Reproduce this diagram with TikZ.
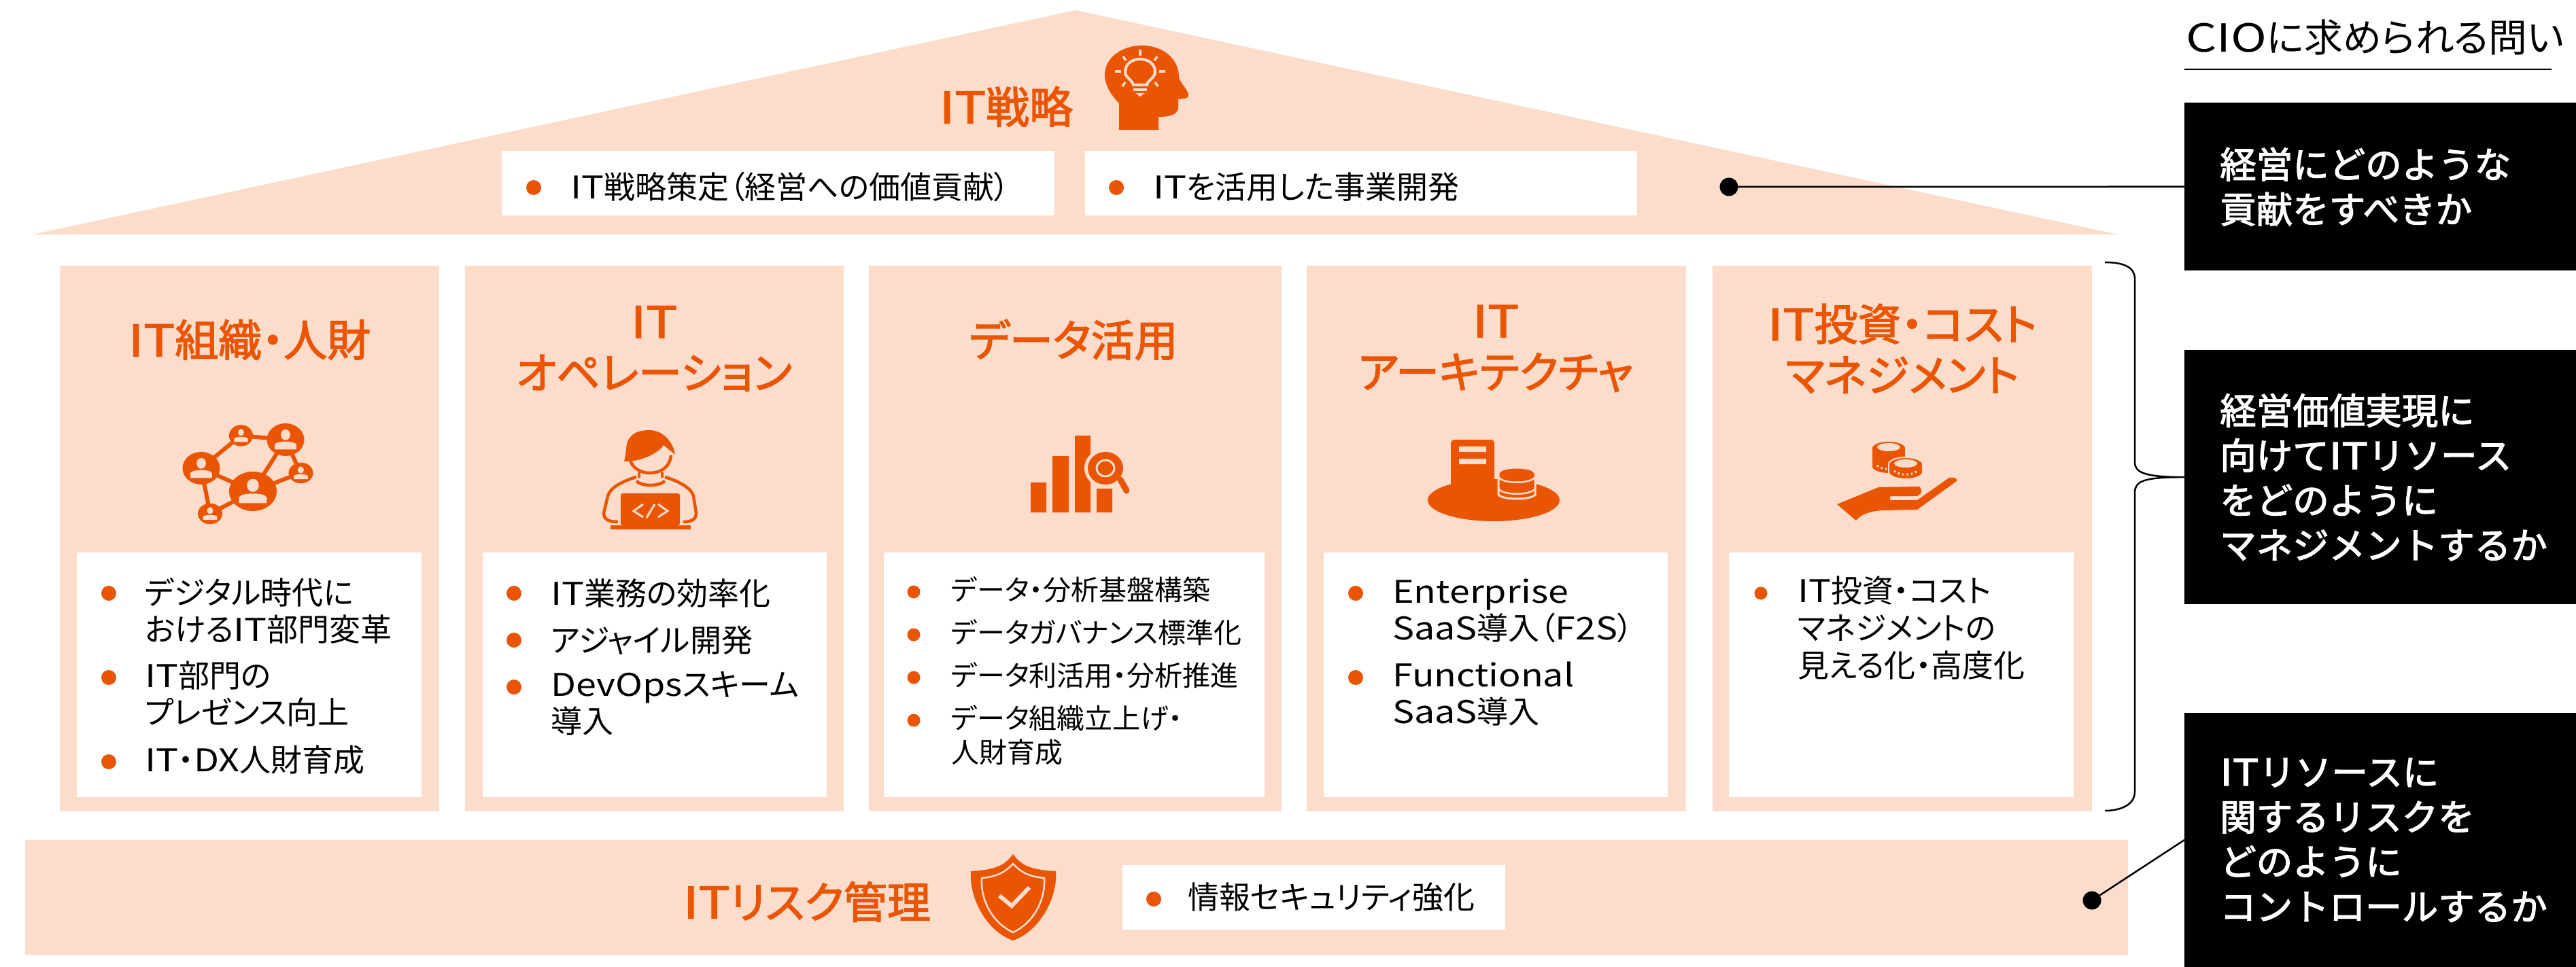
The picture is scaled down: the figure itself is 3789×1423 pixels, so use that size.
\documentclass[tikz,border=0pt]{standalone}
\usepackage{fontspec}
\setmainfont[RawFeature=+palt]{Noto Sans CJK JP}
\newfontfamily\jpmid[RawFeature=+palt,FakeBold=2.2]{Noto Sans CJK JP}
\newfontfamily\jpask[FakeBold=2.4]{Noto Sans CJK JP}
\newcommand\wideword[1]{{\addfontfeature{FakeStretch=1.17}#1}}
\newcommand\IT{{\addfontfeature{FakeStretch=1.2}IT}}
\definecolor{peach}{HTML}{FCDCCA}
\definecolor{rust}{HTML}{EA5504}
\tikzset{
  headtext/.style={text=rust,font=\jpmid\fontsize{64}{75}\selectfont,align=center,inner sep=0},
  itemtext/.style={anchor=west,font=\fontsize{46}{54}\selectfont,align=left,inner sep=0},
  smalltext/.style={anchor=west,font=\fontsize{41}{50}\selectfont,align=left,inner sep=0},
  blob/.style={circle,fill=rust,inner sep=0,minimum size=#1},
  blob/.default=22,
  pin/.style={circle,fill=black,inner sep=0,minimum size=27},
  plate/.style={fill=white,inner sep=0},
  askbox/.style={fill=black,text=white,anchor=north west,minimum width=576,inner xsep=52,inner ysep=0,
    text width=472,align=left,font=\jpask\fontsize{53.5}{66}\selectfont},
  link/.style={line width=2.5}
}
\begin{document}
\begin{tikzpicture}[x=1pt,y=-1pt]
\useasboundingbox (0,0) rectangle (3789,1423);
% house
\fill[peach] (48,345) -- (1582,15) -- (3115,345) -- cycle;
\fill[peach] (37,1236) rectangle (3130,1405);
\foreach \xa/\xb/\xc/\xd in {88/646/113/620,684/1241/710/1216,1278/1885/1300/1860,1922/2480/1947/2453,2519/3077/2543/3050}{
  \fill[peach] (\xa,391) rectangle (\xb,1194);
  \fill[white] (\xc,813) rectangle (\xd,1173);
}
% roof
\node[plate,minimum width=813,minimum height=95] (roofA) at (1144.5,269.5) {};
\node[plate,minimum width=812,minimum height=95] (roofB) at (2002,269.5) {};
\node[headtext] (headRoof) at (1480,157) {\IT 戦略};
\node[blob] (dotRa) at (785,276) {};
\node[blob] (dotRb) at (1642,276) {};
\node[itemtext] (itemRa) at (839,275) {\IT 戦略策定（経営への価値貢献）};
\node[itemtext] (itemRb) at (1696,275) {\IT を活用した事業開発};
% head icon
\fill[rust] (1646,191) -- (1646,152) .. controls (1633,138) and (1625,125) .. (1625,110)
  .. controls (1625,85) and (1650,67) .. (1680,67) .. controls (1712,67) and (1734,88) .. (1734,113)
  .. controls (1735,122) and (1748,132) .. (1748,140) .. controls (1748,146) and (1740,145) .. (1733,146)
  -- (1733,158) .. controls (1733,168) and (1722,172) .. (1704,172) -- (1704,191) -- cycle;
\draw[peach,line width=4] (1667,125) .. controls (1665,117) and (1655,114) .. (1655,106)
  .. controls (1655,94) and (1665,87) .. (1677,87) .. controls (1689,87) and (1699,94) .. (1699,106)
  .. controls (1699,114) and (1689,117) .. (1687,125) -- cycle;
\fill[peach] (1667,130) rectangle (1687,134);
\fill[peach] (1670,137) -- (1684,137) -- (1677,142) -- cycle;
\foreach \xa/\ya/\xb/\yb in {1677/73/1677/82,1652/83/1656/89,1702/83/1698/89,1640/105/1649/105,1705/105/1714/105,1651/127/1655/121,1703/127/1699/121}
  \draw[peach,line width=3.5] (\xa,\ya) -- (\xb,\yb);
% titles
\node[headtext] (headA) at (367,500) {\IT 組織・人財};
\node[headtext] (headB) at (962,513) {\IT\\オペレーション};
\node[headtext] (headC) at (1579,500) {データ活用};
\node[headtext] (headD) at (2200,513) {\IT\\アーキテクチャ};
\node[headtext] (headE) at (2798,513) {\IT 投資・コスト\\マネジメント};
% network icon
\foreach \xa/\ya/\xb/\yb in {354/641/420/647,354/641/296/689,296/689/372/723,296/689/309/756,372/723/420/647,420/647/442/696,442/696/372/723,309/756/372/723}
  \draw[rust,line width=6] (\xa,\ya) -- (\xb,\yb);
\foreach \cx/\cy/\rx/\ry in {420/647/27.5/24,354.5/641/17.6/15.7,296/689/27.5/24,372/723/35/29,442.5/696/18/15.3,309/756/18/15.3}{
  \fill[rust] (\cx,\cy) ellipse ({\rx} and {\ry});
  \fill[peach] (\cx,\cy-0.3*\ry) ellipse ({0.25*\rx} and {0.33*\ry});
  \fill[peach] (\cx-0.58*\rx,\cy+0.6*\ry) -- (\cx-0.58*\rx,\cy+0.3*\ry) .. controls (\cx-0.5*\rx,\cy+0.05*\ry) and (\cx+0.5*\rx,\cy+0.05*\ry) .. (\cx+0.58*\rx,\cy+0.3*\ry) -- (\cx+0.58*\rx,\cy+0.6*\ry) -- cycle;
}
% operator icon
\fill[rust] (918,679) .. controls (922,665) and (920,650) .. (926,645) .. controls (932,635) and (945,633) .. (955,633)
  .. controls (975,633) and (990,650) .. (993,669) -- (976,655) .. controls (968,668) and (940,680) .. (918,679) -- cycle;
\draw[rust,line width=4.5] (927,677) .. controls (930,690) and (945,696) .. (955,696) .. controls (972,696) and (985,688) .. (987,670);
\draw[rust,line width=4.5] (940,695) -- (940,703) (974,695) -- (974,703);
\draw[rust,line width=4.5] (936,708) .. controls (945,716) and (968,716) .. (978,708);
\draw[rust,line width=4.5] (936,702) .. controls (915,708) and (897,718) .. (894,730) -- (888,755) .. controls (888,762) and (892,768) .. (909,768);
\draw[rust,line width=4.5] (978,702) .. controls (998,708) and (1017,718) .. (1020,730) -- (1024,755) .. controls (1024,762) and (1020,768) .. (1005,768);
\fill[rust,rounded corners=3] (913,773) -- (913,726) -- (1000,726) -- (1000,773) -- cycle;
\fill[rust] (898,773) rectangle (1016,779);
\draw[peach,line width=3] (946,742) -- (932,752) -- (946,761) (963,742) -- (951,762) (968,742) -- (982,752) -- (968,761);
% data icon
\fill[rust] (1516,710) rectangle (1539,754) (1548,671) rectangle (1572,754) (1581,641) rectangle (1604,754) (1613,719) rectangle (1636,754);
\fill[peach] (1626,689) ellipse (31 and 29);
\fill[rust] (1626,689) ellipse (26 and 24);
\draw[peach,line width=3] (1626,689) ellipse (13 and 12);
\draw[rust,line width=9,line cap=round] (1648,706) -- (1657,722);
% server icon
\fill[rust] (2197,736) ellipse (97 and 31);
\fill[rust,rounded corners=5] (2134,735) -- (2134,647) -- (2198,647) -- (2198,735) -- cycle;
\fill[peach] (2146,657) rectangle (2186,665) (2146,675) rectangle (2186,683);
\filldraw[rust,draw=peach,line width=3] (2204,697) -- (2204,728) .. controls (2210,736) and (2252,736) .. (2258,728) -- (2258,697) .. controls (2258,685) and (2204,685) .. cycle;
\draw[peach,line width=2.5] (2205,703) .. controls (2212,712) and (2250,712) .. (2257,703) (2205,720) .. controls (2212,729) and (2250,729) .. (2257,720);
% coins and hand icon
\foreach \cx/\cy/\h in {2778/658/30,2803/682/14}{
  \filldraw[rust,draw=peach,line width=2] (\cx-25,\cy) -- (\cx-25,\cy+\h) .. controls (\cx-20,\cy+\h+12) and (\cx+20,\cy+\h+12) .. (\cx+25,\cy+\h) -- (\cx+25,\cy) .. controls (\cx+20,\cy-12) and (\cx-20,\cy-12) .. cycle;
  \fill[peach] (\cx,\cy) ellipse (17 and 6);
  \draw[peach,line width=3,dash pattern=on 2.5pt off 4pt] (\cx-17,\cy+\h-3) .. controls (\cx-10,\cy+\h+4) and (\cx+10,\cy+\h+4) .. (\cx+17,\cy+\h-3);
}
\fill[rust] (2702,742) -- (2763,717) -- (2823,716) .. controls (2828,722) and (2828,726) .. (2820,730) -- (2780,730) -- (2780,736) -- (2820,736) -- (2867,703) .. controls (2874,702) and (2880,704) .. (2878,708) -- (2820,750) -- (2769,751) .. controls (2751,752) and (2737,757) .. (2730,766) -- cycle;
% items
\node[blob] (dotAa) at (160,873) {};
\node[blob] (dotAb) at (160,997) {};
\node[blob] (dotAc) at (160,1121) {};
\node[itemtext] (itemAa) at (213,899) {デジタル時代に\\おける\IT 部門変革};
\node[itemtext] (itemAb) at (213,1021) {\IT 部門の\\プレゼンス向上};
\node[itemtext] (itemAc) at (213,1118) {\IT・\wideword{DX}人財育成};
\node[blob] (dotBa) at (756,873) {};
\node[blob] (dotBb) at (756,942) {};
\node[blob] (dotBc) at (756,1011) {};
\node[itemtext] (itemBa) at (810,873) {\IT 業務の効率化};
\node[itemtext] (itemBb) at (810,942) {アジャイル開発};
\node[itemtext] (itemBc) at (810,1035) {\wideword{DevOps}スキーム\\導入};
\foreach \y/\n in {871/a,934/b,997/c,1060/d}
  \node[blob=19] (dotC\n) at (1344,\y) {};
\node[smalltext] (itemCa) at (1399,868) {データ・分析基盤構築};
\node[smalltext] (itemCb) at (1399,931) {データガバナンス標準化};
\node[smalltext] (itemCc) at (1399,994) {データ利活用・分析推進};
\node[smalltext] (itemCd) at (1399,1082) {データ組織立上げ・\\人財育成};
\node[blob] (dotDa) at (1994,873) {};
\node[blob] (dotDb) at (1994,997) {};
\node[itemtext] (itemDa) at (2048,899) {\wideword{Enterprise}\\\wideword{SaaS}導入（\wideword{F2S}）};
\node[itemtext] (itemDb) at (2048,1021) {\wideword{Functional}\\\wideword{SaaS}導入};
\node[blob=19] (dotEa) at (2590,873) {};
\node[itemtext,font=\fontsize{46}{55}\selectfont] (itemEa) at (2644,924) {\IT 投資・コスト\\マネジメントの\\見える化・高度化};
% risk band
\node[headtext] (headRisk) at (1187,1327) {\IT リスク管理};
\fill[rust] (1490,1257) .. controls (1480,1270) and (1470,1280) .. (1428,1282) .. controls (1425,1320) and (1450,1370) .. (1490,1384)
  .. controls (1530,1370) and (1556,1320) .. (1553,1282) .. controls (1510,1280) and (1500,1270) .. (1490,1257) -- cycle;
\draw[peach,line width=2.5] (1490,1271) .. controls (1482,1280) and (1470,1290) .. (1444,1292) .. controls (1442,1325) and (1460,1358) .. (1490,1372)
  .. controls (1520,1358) and (1538,1325) .. (1536,1292) .. controls (1510,1290) and (1498,1280) .. (1490,1271) -- cycle;
\draw[peach,line width=6] (1470,1318) -- (1488,1333) -- (1514,1306);
\node[plate,minimum width=563,minimum height=95] (riskBox) at (1932.5,1320.5) {};
\node[blob] (dotRisk) at (1697,1323) {};
\node[itemtext] (itemRisk) at (1747,1320) {情報セキュリティ強化};
% questions
\node[font=\fontsize{57}{60}\selectfont,anchor=west,inner sep=0] (askTitle) at (3215,55) {{\addfontfeature{FakeStretch=1.25}CIO}に求められる問い};
\coordinate (ruleA) at (3213,102);
\coordinate (ruleB) at (3753,102);
\draw[link] (ruleA) -- (ruleB);
\node[askbox,minimum height=247] (askA) at (3213,151) {経営にどのような\\貢献をすべきか};
\node[askbox,minimum height=374] (askB) at (3213,515) {経営価値実現に\\向けて\IT リソース\\をどのように\\マネジメントするか};
\node[askbox,minimum height=374] (askC) at (3213,1049) {\IT リソースに\\関するリスクを\\どのように\\コントロールするか};
\coordinate (askCend) at (3213,1236);
\node[pin] (pinA) at (2543,275) {};
\node[pin] (pinC) at (3077,1325) {};
\draw[link] (pinA) -- (askA.west);
\draw[link] (pinC) -- (askCend);
\draw[link] (3096,386) .. controls (3123,386) and (3140,393) .. (3140,410) -- (3140,680)
  .. controls (3140,695) and (3153,702) .. (askB.west) .. controls (3153,702) and (3140,708) .. (3140,725)
  -- (3140,1165) .. controls (3140,1185) and (3118,1193) .. (3096,1193);
\end{tikzpicture}
\end{document}
